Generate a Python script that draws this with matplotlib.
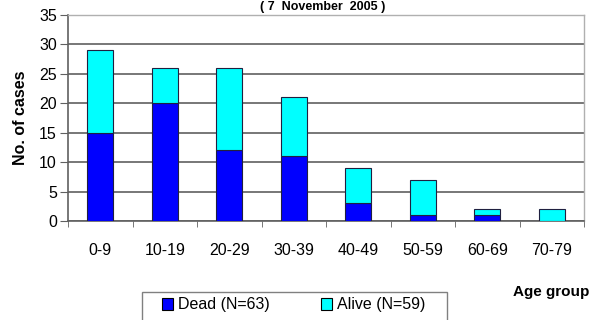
import numpy as np
import matplotlib.pyplot as plt
from matplotlib.patches import Rectangle

groups = ['0-9', '10-19', '20-29', '30-39', '40-49', '50-59', '60-69', '70-79']
dead = [15, 20, 12, 11, 3, 1, 1, 0]
alive = [14, 6, 14, 10, 6, 6, 1, 2]

plt.rcParams['font.family'] = ['Liberation Sans', 'DejaVu Sans']

fig = plt.figure(figsize=(6, 3.2), dpi=100)
ax = fig.add_axes([68 / 600, 1 - 221 / 320, (584 - 68) / 600, (221 - 15) / 320])

x = np.arange(len(groups))
ax.bar(x, dead, width=0.4, color='#0000ff', edgecolor='#202040', linewidth=0.8,
       label='Dead (N=63)', zorder=3)
ax.bar(x, alive, width=0.4, bottom=dead, color='#00ffff', edgecolor='#202040',
       linewidth=0.8, label='Alive (N=59)', zorder=3)

ax.set_xlim(-0.5, len(groups) - 0.5)
ax.set_ylim(0, 35)
ax.set_yticks(range(0, 36, 5))
ax.set_xticks(x)
ax.set_xticklabels(groups)
ax.set_xticks(np.arange(-0.5, len(groups), 1), minor=True)
ax.tick_params(axis='x', which='major', length=0, pad=16, labelsize=11.5)
ax.tick_params(axis='x', which='minor', length=4, color='#606060', direction='out')
ax.tick_params(axis='y', length=6, color='#606060', labelsize=11.5, pad=2)
ax.grid(axis='y', color='#606060', linewidth=1.2, zorder=0)
for side in ['left', 'bottom']:
    ax.spines[side].set_color('#606060')
    ax.spines[side].set_linewidth(1.2)
for side in ['right', 'top']:
    ax.spines[side].set_color('#b0b0b0')
    ax.spines[side].set_linewidth(1.0)

ax.set_ylabel('No. of cases', fontweight='bold', fontsize=11.5)
ax.yaxis.set_label_coords(-0.077, 0.5)

fig.text(0.537, 0.998, '( 7  November  2005 )', ha='center', va='top',
         fontsize=9, fontweight='bold')
fig.text(0.855, 0.088, 'Age group', ha='left', va='center', fontsize=11,
         fontweight='bold')

# legend box runs off the bottom edge, as in the original
fig.patches.append(Rectangle((142 / 600, -0.05), (447 - 142) / 600, 0.05 + 28 / 320,
                             transform=fig.transFigure, fill=False,
                             edgecolor='#808080', linewidth=1.0))
leg = fig.legend(loc='center left', bbox_to_anchor=(162 / 600, 1 - 305 / 320), ncol=2,
                 frameon=False, fontsize=11.5,
                 handlelength=0.7, handleheight=0.7, handletextpad=0.3,
                 columnspacing=3.2, borderpad=0, borderaxespad=0)
for h in leg.legend_handles:
    h.set_edgecolor('black')
    h.set_linewidth(0.8)

fig.savefig('out.png', dpi=100)
